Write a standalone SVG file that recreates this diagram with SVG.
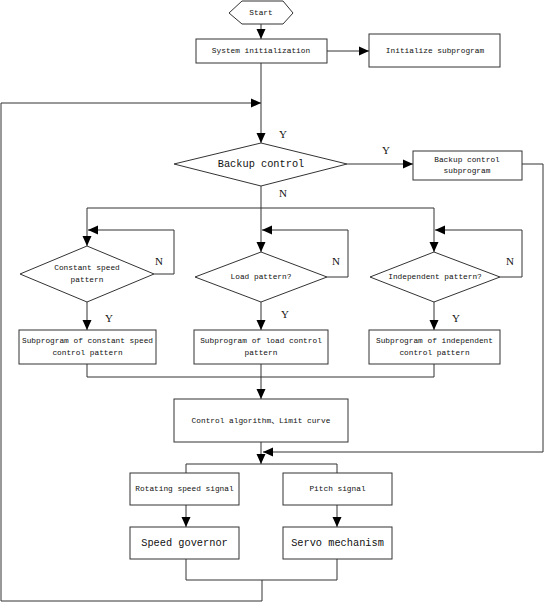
<svg xmlns="http://www.w3.org/2000/svg" width="545" height="602" viewBox="0 0 545 602">
<style>
.n{fill:#fff;stroke:#333;stroke-width:1}
.c{fill:none;stroke:#333;stroke-width:1}
text{font-family:"Liberation Mono","Noto Sans CJK SC",monospace;fill:#111;text-anchor:middle;dominant-baseline:central}
.s{font-size:7.8px}
.b{font-size:10.3px}
.l{font-size:11px;font-family:"Liberation Serif","Noto Sans CJK SC",serif}
</style>
<defs>
<marker id="a" markerUnits="userSpaceOnUse" markerWidth="10" markerHeight="10" viewBox="0 0 10 10" refX="10" refY="5" orient="auto">
<path d="M0,0.5 L10,5 L0,9.5 Z" fill="#000"/>
</marker>
</defs>
<rect width="545" height="602" fill="#fff"/>
<g id="connectors">
<path class="c" d="M261,24 V39" marker-end="url(#a)"/>
<path class="c" d="M327,51 H369" marker-end="url(#a)"/>
<path class="c" d="M261,63 V143" marker-end="url(#a)"/>
<path class="c" d="M262,580 V601 H1 V103 H261" marker-end="url(#a)"/>
<path class="c" d="M347,164 H413" marker-end="url(#a)"/>
<path class="c" d="M522,164 H543 V452 H263" marker-end="url(#a)"/>
<path class="c" d="M87,208 H434"/>
<path class="c" d="M261,186 V252" marker-end="url(#a)"/>
<path class="c" d="M87,208 V246" marker-end="url(#a)"/>
<path class="c" d="M434,208 V252" marker-end="url(#a)"/>
<path class="c" d="M154,274 H174 V230 H88" marker-end="url(#a)"/>
<path class="c" d="M327,277 H348 V230 H262" marker-end="url(#a)"/>
<path class="c" d="M500,277 H522 V230 H435" marker-end="url(#a)"/>
<path class="c" d="M87,302 V330" marker-end="url(#a)"/>
<path class="c" d="M261,302 V330" marker-end="url(#a)"/>
<path class="c" d="M434,302 V330" marker-end="url(#a)"/>
<path class="c" d="M87,364 V377 H434 V364"/>
<path class="c" d="M261,364 V399" marker-end="url(#a)"/>
<path class="c" d="M261,442 V464" marker-end="url(#a)"/>
<path class="c" d="M186,473 V464 H337 V473"/>
<path class="c" d="M186,505 V527" marker-end="url(#a)"/>
<path class="c" d="M337,505 V527" marker-end="url(#a)"/>
<path class="c" d="M186,559 V580 H337 V559"/>
<text class="l" x="283" y="134">Y</text>
<text class="l" x="386" y="150">Y</text>
<text class="l" x="283" y="193">N</text>
<text class="l" x="159" y="261">N</text>
<text class="l" x="336" y="261">N</text>
<text class="l" x="510" y="261">N</text>
<text class="l" x="109" y="318">Y</text>
<text class="l" x="285" y="314">Y</text>
<text class="l" x="456" y="318">Y</text>
</g>
<g id="start">
<polygon class="n" points="229,13 242,1 283,1 293,13 283,24 242,24"/>
<text class="s" x="261" y="13">Start</text>
</g>
<g id="sysinit">
<rect class="n" x="196" y="39" width="131" height="24"/>
<text class="s" x="261" y="51">System initialization</text>
</g>
<g id="initsub">
<rect class="n" x="369" y="34" width="131" height="33"/>
<text class="s" x="435" y="51">Initialize subprogram</text>
</g>
<g id="backup">
<polygon class="n" points="174,164 261,143 347,164 261,186"/>
<text class="b" x="261" y="164">Backup control</text>
</g>
<g id="backupsub">
<rect class="n" x="413" y="151" width="109" height="29"/>
<text class="s" x="467" y="159.5">Backup control</text>
<text class="s" x="467" y="170.5">subprogram</text>
</g>
<g id="constdiamond">
<polygon class="n" points="20,274 87,246 154,274 87,302"/>
<text class="s" x="87" y="268">Constant speed</text>
<text class="s" x="87" y="279.5">pattern</text>
</g>
<g id="loaddiamond">
<polygon class="n" points="195,277 261,252 327,277 261,302"/>
<text class="s" x="261" y="277">Load pattern?</text>
</g>
<g id="inddiamond">
<polygon class="n" points="370,277 434,252 500,277 434,302"/>
<text class="s" x="435" y="277">Independent pattern?</text>
</g>
<g id="constsub">
<rect class="n" x="19" y="330" width="137" height="34"/>
<text class="s" x="87.5" y="341">Subprogram of constant speed</text>
<text class="s" x="87.5" y="352.5">control pattern</text>
</g>
<g id="loadsub">
<rect class="n" x="194" y="330" width="134" height="34"/>
<text class="s" x="261" y="341">Subprogram of load control</text>
<text class="s" x="261" y="352.5">pattern</text>
</g>
<g id="indsub">
<rect class="n" x="369" y="330" width="131" height="34"/>
<text class="s" x="434.5" y="341">Subprogram of independent</text>
<text class="s" x="434.5" y="352.5">control pattern</text>
</g>
<g id="control">
<rect class="n" x="174" y="399" width="174" height="43"/>
<text class="s" x="261" y="421">Control algorithm、Limit curve</text>
</g>
<g id="rotating">
<rect class="n" x="130" y="473" width="109" height="32"/>
<text class="s" x="184.5" y="489">Rotating speed signal</text>
</g>
<g id="pitch">
<rect class="n" x="283" y="473" width="109" height="32"/>
<text class="s" x="337.5" y="489">Pitch signal</text>
</g>
<g id="governor">
<rect class="n" x="130" y="527" width="109" height="32"/>
<text class="b" x="184.5" y="543">Speed governor</text>
</g>
<g id="servo">
<rect class="n" x="283" y="527" width="109" height="32"/>
<text class="b" x="337.5" y="543">Servo mechanism</text>
</g>
</svg>
